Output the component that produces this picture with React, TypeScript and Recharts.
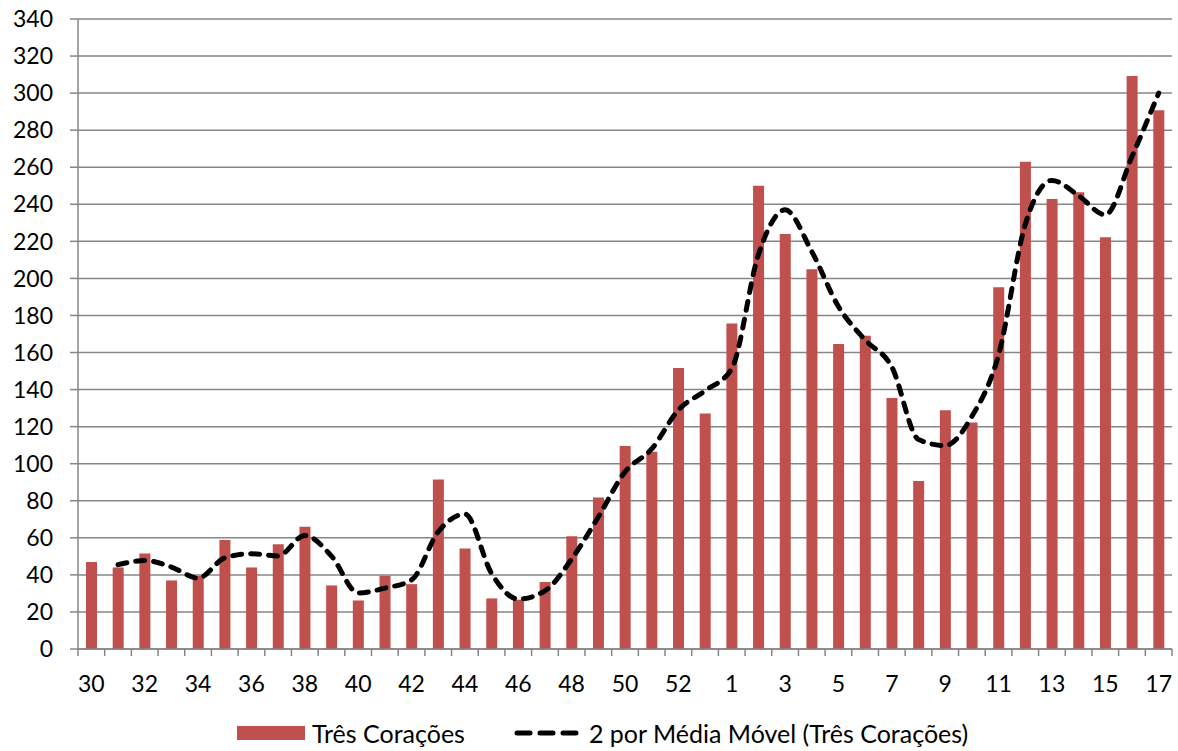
import React from 'react';
import { ComposedChart, Bar, Line, XAxis, YAxis, CartesianGrid, Legend } from 'recharts';

const weeks = [
  '30', '31', '32', '33', '34', '35', '36', '37', '38', '39', '40', '41', '42', '43', '44', '45',
  '46', '47', '48', '49', '50', '51', '52', '53', '1', '2', '3', '4', '5', '6', '7', '8', '9',
  '10', '11', '12', '13', '14', '15', '16', '17',
];

const tresCoracoes = [
  47, 44, 51.5, 37, 39.5, 58.8, 44, 56.5, 66, 34.3, 26.2, 39.5, 35, 91.5, 54.2, 27.3,
  26.6, 36.2, 60.8, 81.7, 109.5, 106.4, 151.6, 127.1, 175.6, 250, 224, 205, 164.6, 169, 135.4, 90.7, 128.9,
  122.2, 195.2, 263, 242.8, 246.5, 222.2, 309.3, 290.7,
];

const mediaMovel: (number | null)[] = [
  null, 45.5, 47.75, 44.25, 38.25, 49.15, 51.4, 50.25, 61.25, 50.15, 30.25, 32.85, 37.25, 63.25, 72.85, 40.75,
  26.95, 31.4, 48.5, 71.25, 95.6, 107.95, 129, 139.35, 151.35, 212.8, 237, 214.5, 184.8, 166.8, 152.2, 113.05, 109.8,
  125.55, 158.7, 229.1, 252.9, 244.65, 234.35, 265.75, 300,
];

const yTicks = [0, 20, 40, 60, 80, 100, 120, 140, 160, 180, 200, 220, 240, 260, 280, 300, 320, 340];

const seriesBarName = 'Três Corações';
const seriesLineName = '2 por Média Móvel (Três Corações)';

const data = weeks.map((w, i) => ({ week: w, sales: tresCoracoes[i], ma: mediaMovel[i] }));

const W = 1178;
const H = 751;
const MARGIN = { top: 19, right: 6, bottom: 0, left: 0 };
const Y_AXIS_WIDTH = 78;
const LEGEND_HEIGHT = 34;
const X_AXIS_HEIGHT = 68;
const STEP = (W - MARGIN.left - MARGIN.right - Y_AXIS_WIDTH) / weeks.length;
const FONT = 'Lato, "Open Sans", sans-serif';
const GRAY = '#868686';
const RED = '#C0504D';

function XTick(props: any) {
  const { x, y, payload, index } = props;
  const half = STEP / 2;
  const axisY = y - 8;
  return (
    <g>
      <line x1={x + half} x2={x + half} y1={axisY} y2={axisY + 7} stroke={GRAY} strokeWidth={1.5} />
      {index === 0 && (
        <line x1={x - half} x2={x - half} y1={axisY} y2={axisY + 7} stroke={GRAY} strokeWidth={1.5} />
      )}
      {index % 2 === 0 && (
        <text x={x} y={y + 35} textAnchor="middle" fill="#000" fontSize={23} fontFamily={FONT}>
          {payload.value}
        </text>
      )}
    </g>
  );
}

function LegendContent() {
  return (
    <div
      style={{
        width: W,
        height: LEGEND_HEIGHT,
        display: 'flex',
        alignItems: 'center',
        paddingLeft: 237,
        paddingTop: 2,
        paddingBottom: 4,
        boxSizing: 'border-box',
        fontFamily: FONT,
        fontSize: 25,
        lineHeight: '28px',
        color: '#000',
        whiteSpace: 'nowrap',
      }}
    >
      <div style={{ width: 68, height: 14, background: RED, marginRight: 7 }} />
      <span style={{ marginRight: 49 }}>{seriesBarName}</span>
      <svg width={66} height={10} style={{ marginRight: 9 }}>
        <line x1={3} x2={63} y1={5} y2={5} stroke="#000" strokeWidth={5} strokeDasharray="13 10" strokeLinecap="round" />
      </svg>
      <span>{seriesLineName}</span>
    </div>
  );
}

export default function App() {
  return (
    <div style={{ position: 'absolute', left: 0, top: 0, width: W, height: H, background: '#fff', overflow: 'hidden' }}>
      <ComposedChart width={W} height={H} data={data} margin={MARGIN} style={{ fontFamily: FONT }}>
        <CartesianGrid vertical={false} stroke={GRAY} strokeWidth={1.5} />
        <XAxis
          dataKey="week"
          interval={0}
          height={X_AXIS_HEIGHT}
          tickLine={false}
          tickSize={8}
          tickMargin={0}
          axisLine={{ stroke: GRAY, strokeWidth: 1.5 }}
          tick={<XTick />}
        />
        <YAxis
          width={Y_AXIS_WIDTH}
          domain={[0, 340]}
          ticks={yTicks}
          interval={0}
          tickSize={8}
          tickMargin={17}
          tickLine={{ stroke: GRAY, strokeWidth: 1.5 }}
          axisLine={{ stroke: GRAY, strokeWidth: 1.5 }}
          tick={{ fill: '#000', fontSize: 23, fontFamily: FONT }}
        />
        <Legend
          verticalAlign="bottom"
          height={LEGEND_HEIGHT}
          wrapperStyle={{ left: 0, width: W }}
          content={<LegendContent />}
        />
        <Bar dataKey="sales" name={seriesBarName} fill={RED} barSize={11} isAnimationActive={false} />
        <Line
          type="monotone"
          dataKey="ma"
          name={seriesLineName}
          stroke="#000"
          strokeWidth={5}
          strokeDasharray="9 9"
          strokeLinecap="round"
          dot={false}
          activeDot={false}
          connectNulls={false}
          isAnimationActive={false}
        />
      </ComposedChart>
    </div>
  );
}
